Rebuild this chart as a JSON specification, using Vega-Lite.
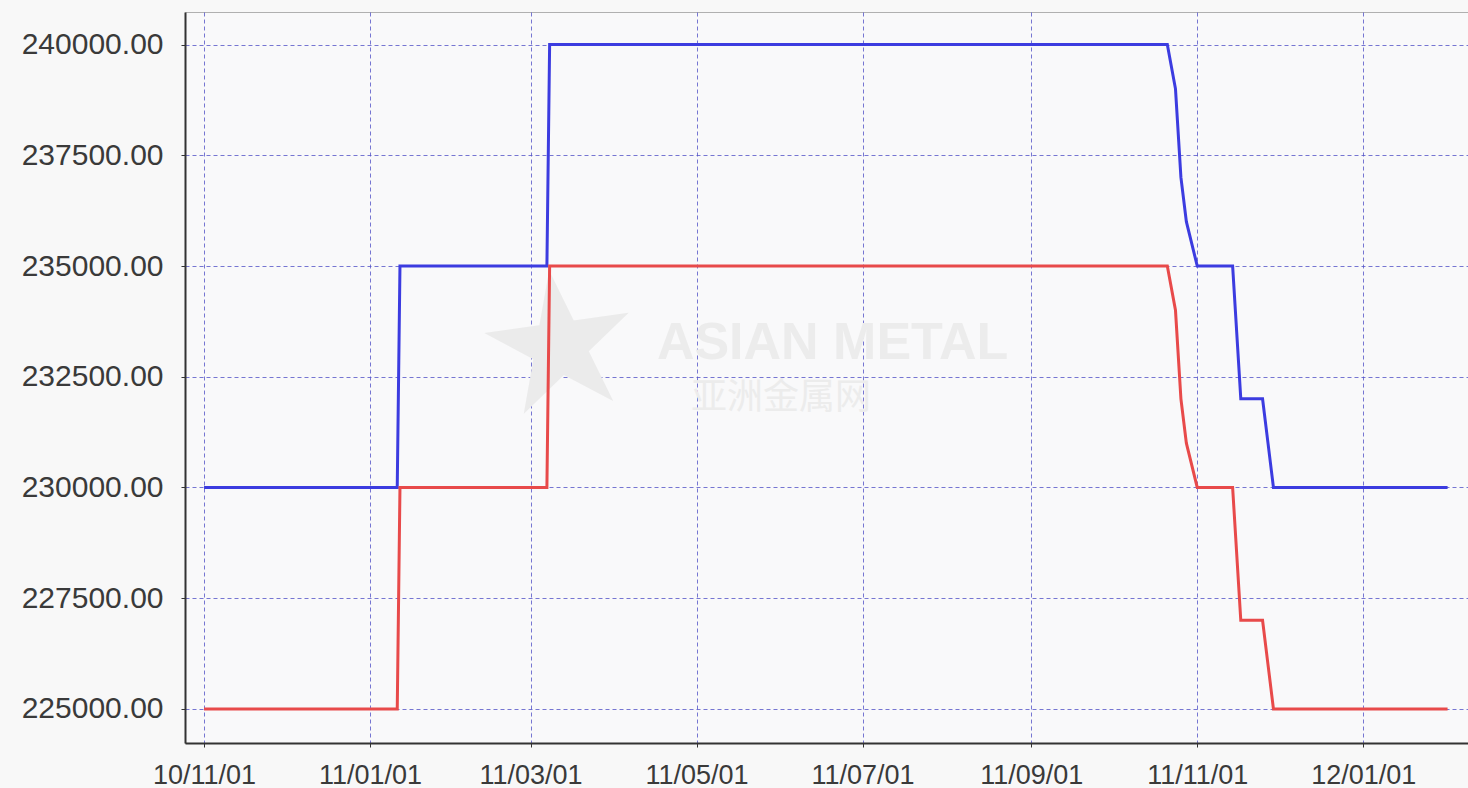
{
  "$schema": "https://vega.github.io/schema/vega-lite/v6.json",
  "width": 1283,
  "height": 731,
  "autosize": {"type": "none"},
  "padding": {"left": 185, "top": 12, "right": 0, "bottom": 45},
  "background": "#f8f8f8",
  "config": {
    "view": {"stroke": "#b0b0b0", "strokeWidth": 1, "fill": "#f9f9fa"},
    "axis": {
      "labelFont": "Liberation Sans",
      "labelColor": "#3a3a3a",
      "domainColor": "#333333",
      "domainWidth": 2,
      "tickColor": "#333333",
      "tickSize": 4,
      "grid": true,
      "gridColor": "#5555c8",
      "gridOpacity": 0.8,
      "gridDash": [4, 3],
      "gridWidth": 1,
      "title": null
    }
  },
  "datasets": {
    "prices": [
      {"date": "2010-11-01", "series": "high", "price": 230000},
      {"date": "2011-01-11", "series": "high", "price": 230000},
      {"date": "2011-01-12", "series": "high", "price": 235000},
      {"date": "2011-03-07", "series": "high", "price": 235000},
      {"date": "2011-03-08", "series": "high", "price": 240000},
      {"date": "2011-10-21", "series": "high", "price": 240000},
      {"date": "2011-10-24", "series": "high", "price": 239000},
      {"date": "2011-10-26", "series": "high", "price": 237000},
      {"date": "2011-10-28", "series": "high", "price": 236000},
      {"date": "2011-11-01", "series": "high", "price": 235000},
      {"date": "2011-11-14", "series": "high", "price": 235000},
      {"date": "2011-11-17", "series": "high", "price": 232000},
      {"date": "2011-11-25", "series": "high", "price": 232000},
      {"date": "2011-11-27", "series": "high", "price": 231000},
      {"date": "2011-11-29", "series": "high", "price": 230000},
      {"date": "2012-02-01", "series": "high", "price": 230000},
      {"date": "2010-11-01", "series": "low", "price": 225000},
      {"date": "2011-01-11", "series": "low", "price": 225000},
      {"date": "2011-01-12", "series": "low", "price": 230000},
      {"date": "2011-03-07", "series": "low", "price": 230000},
      {"date": "2011-03-08", "series": "low", "price": 235000},
      {"date": "2011-10-21", "series": "low", "price": 235000},
      {"date": "2011-10-24", "series": "low", "price": 234000},
      {"date": "2011-10-26", "series": "low", "price": 232000},
      {"date": "2011-10-28", "series": "low", "price": 231000},
      {"date": "2011-11-01", "series": "low", "price": 230000},
      {"date": "2011-11-14", "series": "low", "price": 230000},
      {"date": "2011-11-17", "series": "low", "price": 227000},
      {"date": "2011-11-25", "series": "low", "price": 227000},
      {"date": "2011-11-27", "series": "low", "price": 226000},
      {"date": "2011-11-29", "series": "low", "price": 225000},
      {"date": "2012-02-01", "series": "low", "price": 225000}
    ]
  },
  "layer": [
    {
      "data": {"values": [{}]},
      "mark": {"type": "text", "text": "★", "font": "DejaVu Sans", "fontSize": 190, "color": "#ebebeb", "angle": -8, "baseline": "middle", "align": "center"},
      "encoding": {
        "x": {"datum": {"year": 2011, "month": 3, "date": 12, "utc": true}, "type": "temporal", "scale": {"type": "utc", "domain": [{"year": 2010, "month": 10, "date": 25, "utc": true}, {"year": 2012, "month": 2, "date": 8, "hours": 12, "utc": true}]}},
        "y": {"datum": 233100, "type": "quantitative", "scale": {"domain": [224230, 240735], "zero": false, "nice": false}}
      }
    },
    {
      "data": {"values": [{}]},
      "mark": {"type": "text", "text": "ASIAN METAL", "font": "Liberation Sans", "fontWeight": "bold", "fontSize": 52, "color": "#ececec", "baseline": "middle", "align": "center"},
      "encoding": {
        "x": {"datum": {"year": 2011, "month": 6, "date": 20, "utc": true}, "type": "temporal"},
        "y": {"datum": 233270, "type": "quantitative"}
      }
    },
    {
      "data": {"values": [{}]},
      "mark": {"type": "text", "text": "亚洲金属网", "font": "Noto Sans CJK SC", "fontSize": 36, "color": "#ececec", "baseline": "middle", "align": "center"},
      "encoding": {
        "x": {"datum": {"year": 2011, "month": 6, "date": 1, "utc": true}, "type": "temporal"},
        "y": {"datum": 232030, "type": "quantitative"}
      }
    },
    {
      "data": {"name": "prices"},
      "mark": {"type": "line", "strokeWidth": 3, "interpolate": "linear"},
      "encoding": {
        "x": {
          "field": "date", "type": "temporal",
          "axis": {
            "values": [
              {"year": 2010, "month": 11, "date": 1, "utc": true},
              {"year": 2011, "month": 1, "date": 1, "utc": true},
              {"year": 2011, "month": 3, "date": 1, "utc": true},
              {"year": 2011, "month": 5, "date": 1, "utc": true},
              {"year": 2011, "month": 7, "date": 1, "utc": true},
              {"year": 2011, "month": 9, "date": 1, "utc": true},
              {"year": 2011, "month": 11, "date": 1, "utc": true},
              {"year": 2012, "month": 1, "date": 1, "utc": true}
            ],
            "format": "%y/%m/%d",
            "labelFontSize": 27,
            "labelPadding": 15,
            "labelFlush": false,
            "labelOverlap": false
          }
        },
        "y": {
          "field": "price", "type": "quantitative",
          "axis": {
            "values": [225000, 227500, 230000, 232500, 235000, 237500, 240000],
            "format": ".2f",
            "labelFontSize": 30,
            "labelPadding": 18
          }
        },
        "color": {
          "field": "series", "type": "nominal",
          "scale": {"domain": ["high", "low"], "range": ["#3c3ce0", "#e84a4a"]},
          "legend": null
        }
      }
    }
  ]
}
